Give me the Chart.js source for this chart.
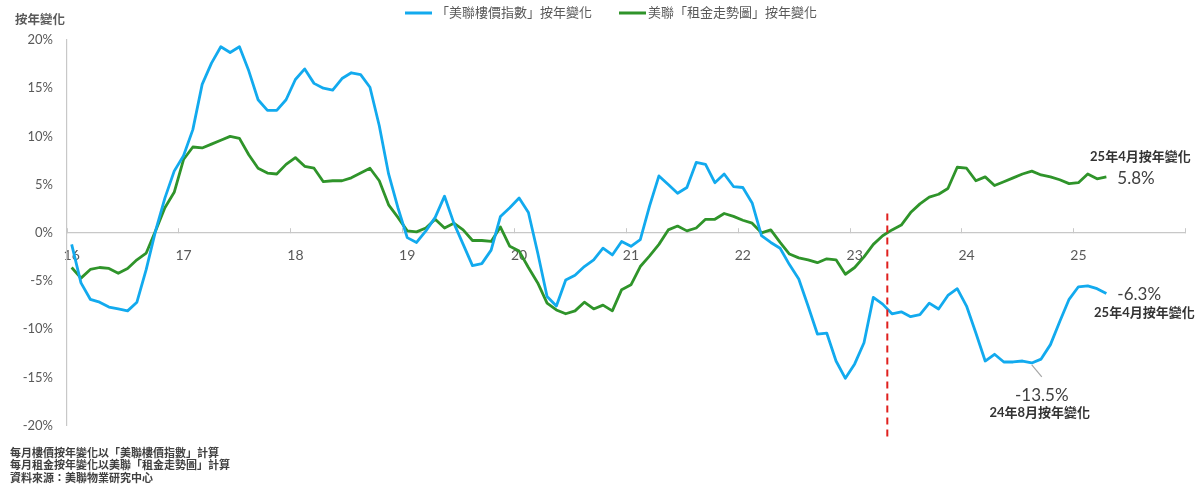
<!DOCTYPE html>
<html>
<head>
<meta charset="utf-8">
<script src="https://cdn.jsdelivr.net/npm/chart.js@4.4.1/dist/chart.umd.min.js"></script>
<style>
  html, body { margin: 0; padding: 0; background: #fff; }
  #wrap { width: 1200px; height: 492px; }
</style>
</head>
<body>
<div id="wrap"><canvas id="yoyChart" width="1200" height="492"></canvas></div>
<script>
// --- data (monthly, Jan 2016 .. Apr 2025) ---
const yearLabels = ['16', '17', '18', '19', '20', '21', '22', '23', '24', '25'];
const monthLabels = ['1月', '2月', '3月', '4月', '5月', '6月', '7月', '8月', '9月', '10月', '11月', '12月'];

// year-on-year change of the price index (%)
const priceYoY = [
  -1.2, -5.2, -6.9, -7.2, -7.7, -7.9, -8.1, -7.2, -3.8, 0.2, 3.6, 6.4,
  8.0, 10.7, 15.4, 17.6, 19.3, 18.7, 19.3, 16.8, 13.8, 12.7, 12.7, 13.8,
  15.9, 17.0, 15.5, 15.0, 14.8, 16.0, 16.6, 16.4, 15.1, 11.1, 6.1, 2.6,
  -0.5, -1.0, 0.2, 1.6, 3.8, 1.0, -1.2, -3.4, -3.2, -1.8, 1.7, 2.6,
  3.6, 2.1, -2.1, -6.6, -7.6, -4.9, -4.4, -3.5, -2.8, -1.6, -2.3, -0.9,
  -1.4, -0.7, 2.8, 5.9, 5.0, 4.1, 4.7, 7.3, 7.1, 5.2, 6.1, 4.8,
  4.7, 3.1, -0.3, -1.0, -1.6, -3.3, -4.8, -7.6, -10.5, -10.4, -13.3, -15.1,
  -13.6, -11.4, -6.7, -7.4, -8.4, -8.2, -8.7, -8.5, -7.3, -7.9, -6.5, -5.8,
  -7.6, -10.4, -13.3, -12.6, -13.4, -13.4, -13.3, -13.5, -13.1, -11.6, -9.2, -6.9,
  -5.6, -5.5, -5.8, -6.3
];

// year-on-year change of the rent index (%)
const rentYoY = [
  -3.6, -4.7, -3.8, -3.6, -3.7, -4.2, -3.7, -2.8, -2.1, 0.2, 2.6, 4.2,
  7.6, 8.9, 8.8, 9.2, 9.6, 10.0, 9.8, 8.1, 6.7, 6.2, 6.1, 7.1,
  7.8, 6.9, 6.7, 5.3, 5.4, 5.4, 5.7, 6.2, 6.7, 5.4, 2.9, 1.6,
  0.2, 0.1, 0.5, 1.4, 0.5, 1.0, 0.3, -0.8, -0.8, -0.9, 0.6, -1.4,
  -1.9, -3.6, -5.2, -7.3, -8.0, -8.4, -8.1, -7.2, -7.9, -7.5, -8.1, -5.9,
  -5.4, -3.5, -2.4, -1.2, 0.3, 0.7, 0.2, 0.5, 1.4, 1.4, 2.0, 1.7,
  1.3, 1.0, 0.0, 0.3, -1.0, -2.2, -2.6, -2.8, -3.1, -2.7, -2.8, -4.3,
  -3.6, -2.5, -1.2, -0.3, 0.3, 0.8, 2.1, 3.0, 3.7, 4.0, 4.6, 6.8,
  6.7, 5.4, 5.8, 4.9, 5.3, 5.7, 6.1, 6.4, 6.0, 5.8, 5.5, 5.1,
  5.2, 6.1, 5.6, 5.8
];

const seriesNames = ['「美聯樓價指數」按年變化', '美聯「租金走勢圖」按年變化'];
const yTicks = { min: -20, max: 20, step: 5 };

const footNotes = [
  '每月樓價按年變化以「美聯樓價指數」計算',
  '每月租金按年變化以美聯「租金走勢圖」計算',
  '資料來源：美聯物業研究中心'
];

// category per month on the axis: Jan 2016 .. Dec 2025
const categories = [];
yearLabels.forEach(yy => monthLabels.forEach(m => categories.push('20' + yy + '年' + m)));

const lastIdx = priceYoY.length - 1;   // Apr 2025
const troughIdx = 103;                 // Aug 2024
const dividerIdx = 87.5;               // between Apr and May 2023

// --- styling ---
const BLUE = '#12aaee';
const GREEN = '#2f942a';
const AXIS_GREY = '#c8c8c8';
const TEXT_GREY = '#595959';
const FONT = "Lato, 'Noto Sans CJK TC', sans-serif";

// texts and divider line drawn on top of the chart
const overlayPlugin = {
  id: 'overlay',
  afterDatasetsDraw(chart) {
    const { ctx, scales: { x, y } } = chart;
    const lx = x.getPixelForValue(dividerIdx);
    ctx.save();
    ctx.strokeStyle = '#e0201e';
    ctx.lineWidth = 2;
    ctx.setLineDash([7, 5]);
    ctx.beginPath();
    ctx.moveTo(lx, y.getPixelForValue(2));
    ctx.lineTo(lx, y.getPixelForValue(-21.3));
    ctx.stroke();
    ctx.restore();
  },
  afterDraw(chart) {
    const { ctx, scales: { x, y } } = chart;
    ctx.save();
    ctx.textBaseline = 'middle';

    // y axis title
    ctx.fillStyle = TEXT_GREY;
    ctx.font = 'bold 12.5px ' + FONT;
    ctx.textAlign = 'center';
    ctx.fillText('按年變化', 40, 20);

    // legend
    const legendX = [405, 619];
    ctx.font = '13px ' + FONT;
    ctx.textAlign = 'left';
    chart.data.datasets.forEach((ds, i) => {
      ctx.fillStyle = ds.borderColor;
      ctx.fillRect(legendX[i], 11.5, 27, 3);
      ctx.fillStyle = TEXT_GREY;
      ctx.fillText(ds.label, legendX[i] + (i === 0 ? 31 : 29), 13);
    });

    // latest values
    const lx = x.getPixelForValue(lastIdx);
    const rentY = y.getPixelForValue(rentYoY[lastIdx]);
    const priceY = y.getPixelForValue(priceYoY[lastIdx]);
    ctx.fillStyle = '#404040';
    ctx.font = '17px ' + FONT;
    ctx.textAlign = 'left';
    ctx.fillText(rentYoY[lastIdx].toFixed(1) + '%', lx + 11, rentY + 2);
    ctx.fillText(priceYoY[lastIdx].toFixed(1) + '%', lx + 11, priceY + 1);
    ctx.fillStyle = '#333333';
    ctx.font = 'bold 13px ' + FONT;
    ctx.textAlign = 'center';
    ctx.fillText('25年4月按年變化', lx + 34, rentY - 20);
    ctx.fillText('25年4月按年變化', lx + 38, priceY + 19);

    // trough callout
    const tx = x.getPixelForValue(troughIdx);
    const ty = y.getPixelForValue(priceYoY[troughIdx]);
    ctx.strokeStyle = '#a6a6a6';
    ctx.lineWidth = 1.2;
    ctx.beginPath();
    ctx.moveTo(tx, ty + 2);
    ctx.lineTo(tx + 10, ty + 14);
    ctx.stroke();
    ctx.fillStyle = '#404040';
    ctx.font = '17px ' + FONT;
    ctx.fillText(priceYoY[troughIdx].toFixed(1) + '%', tx + 10, ty + 33);
    ctx.fillStyle = '#333333';
    ctx.font = 'bold 13px ' + FONT;
    ctx.fillText('24年8月按年變化', tx + 8, ty + 50);

    // notes
    ctx.fillStyle = '#404040';
    ctx.font = 'bold 11px ' + FONT;
    ctx.textAlign = 'left';
    footNotes.forEach((t, i) => ctx.fillText(t, 10, 453 + i * 12.5));
    ctx.restore();
  }
};

function init() {
  const ctx = document.getElementById('yoyChart').getContext('2d');
  new Chart(ctx, {
    type: 'line',
    data: {
      labels: categories,
      datasets: [{
        label: seriesNames[0],
        data: priceYoY,
        borderColor: BLUE,
        backgroundColor: BLUE,
        borderWidth: 2.8,
        pointRadius: 0,
        tension: 0,
        borderJoinStyle: 'round'
      }, {
        label: seriesNames[1],
        data: rentYoY,
        borderColor: GREEN,
        backgroundColor: GREEN,
        borderWidth: 2.8,
        pointRadius: 0,
        tension: 0,
        borderJoinStyle: 'round'
      }]
    },
    options: {
      responsive: false,
      animation: false,
      layout: { padding: { left: 0, right: 13, top: 40, bottom: 66.4 } },
      plugins: {
        legend: { display: false },
        tooltip: { enabled: false }
      },
      scales: {
        x: {
          type: 'category',
          position: { y: 0 },
          offset: true,
          grid: {
            offset: true,
            drawOnChartArea: false,
            drawTicks: true,
            tickLength: -5,
            color: c => (c.index === undefined || c.index % 12 === 0) ? AXIS_GREY : 'rgba(0,0,0,0)'
          },
          border: { display: true, color: AXIS_GREY, width: 1.2 },
          ticks: {
            autoSkip: false,
            maxRotation: 0,
            padding: 19,
            color: TEXT_GREY,
            font: { family: FONT, size: 14 },
            callback: (v, i) => i % 12 === 0 ? yearLabels[i / 12] : ''
          }
        },
        y: {
          min: yTicks.min,
          max: yTicks.max,
          afterFit: s => { s.width = 67; },
          grid: { display: false, drawTicks: false },
          border: { display: true, color: AXIS_GREY, width: 1.2 },
          ticks: {
            stepSize: yTicks.step,
            padding: 14,
            color: TEXT_GREY,
            font: { family: FONT, size: 13 },
            callback: v => v + '%'
          }
        }
      }
    },
    plugins: [overlayPlugin]
  });
}

window.onload = init;
</script>
</body>
</html>
